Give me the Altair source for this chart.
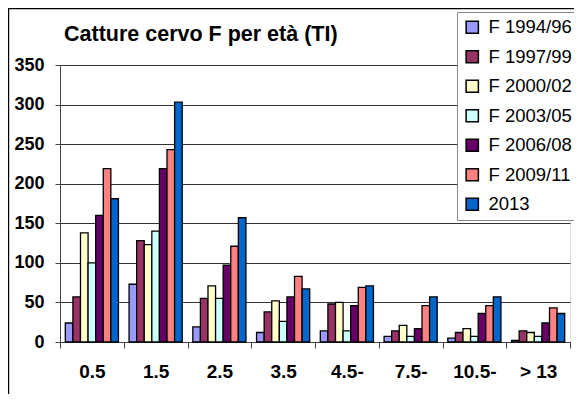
import altair as alt
import pandas as pd

categories = ["0.5", "1.5", "2.5", "3.5", "4.5-", "7.5-", "10.5-", "> 13"]
series = ["F 1994/96", "F 1997/99", "F 2000/02", "F 2003/05", "F 2006/08", "F 2009/11", "2013"]
colors = ["#9999FF", "#993366", "#FFFFCC", "#CCFFFF", "#660066", "#FF8080", "#0066CC"]

v_1994 = [24, 73, 19, 12, 14, 7, 5, 2]
v_1997 = [57, 128, 55, 38, 48, 14, 12, 14]
v_2000 = [138, 123, 71, 52, 50, 21, 17, 12]
v_2003 = [100, 140, 55, 26, 14, 7, 7, 7]
v_2006 = [160, 219, 97, 57, 46, 17, 36, 24]
v_2009 = [219, 243, 121, 83, 69, 46, 46, 43]
v_2013 = [181, 303, 157, 67, 71, 57, 57, 36]
y_ticks = [0, 50, 100, 150, 200, 250, 300, 350]
title_text = ["Catture cervo F per età (TI)"]

values = [v_1994, v_1997, v_2000, v_2003, v_2006, v_2009, v_2013]
rows = []
for s, vals in zip(series, values):
    for c, v in zip(categories, vals):
        rows.append({"Età": c, "Serie": s, "Catture": v})
df = pd.DataFrame(rows)
title_df = pd.DataFrame({"t": title_text})

FONT = "Liberation Sans"

bars = alt.Chart(df).mark_bar(stroke="black", strokeWidth=1.3).encode(
    x=alt.X("Età:N", sort=categories, title=None,
            scale=alt.Scale(paddingInner=0, paddingOuter=0),
            axis=alt.Axis(labelAngle=0, labelFont=FONT, labelFontSize=19, labelFontWeight="bold",
                          labelColor="black", labelPadding=14, tickBand="extent", tickSize=6,
                          tickColor="#444", domainColor="#444", grid=False)),
    xOffset=alt.XOffset("Serie:N", sort=series,
                        scale=alt.Scale(paddingInner=0, paddingOuter=0.7)),
    y=alt.Y("Catture:Q", title=None,
            scale=alt.Scale(domain=[0, 350], nice=False),
            axis=alt.Axis(values=y_ticks, labelFont=FONT, labelFontSize=18, labelFontWeight="bold",
                          labelColor="black", labelPadding=11, tickSize=5, tickColor="#444",
                          domainColor="#444", gridColor="#333", gridWidth=1)),
    color=alt.Color("Serie:N", sort=series,
                    scale=alt.Scale(domain=series, range=colors),
                    legend=alt.Legend(title=None, orient="none", legendX=397, legendY=-53,
                                      padding=6, rowPadding=10.5, labelFont=FONT, labelFontSize=18.5,
                                      labelColor="black", labelOffset=7, symbolType="square",
                                      symbolSize=150, symbolStrokeColor="black", symbolStrokeWidth=1.5,
                                      fillColor="white", strokeColor="#888", labelLimit=200)),
)

title = alt.Chart(title_df).mark_text(
    font=FONT, fontSize=21.5, fontWeight="bold", color="black", align="left", baseline="alphabetic"
).encode(text="t:N", x=alt.value(4), y=alt.value(-24))

frame = alt.Chart(title_df).mark_rect(fillOpacity=0, stroke="black", strokeWidth=1.2).encode(
    x=alt.value(-51.4), x2=alt.value(700), y=alt.value(-56.4), y2=alt.value(500)
)

chart = alt.layer(frame, bars, title).properties(
    width=510, height=277,
    padding={"left": 52, "top": 57, "right": 4, "bottom": 52},
    autosize=alt.AutoSizeParams(type="none"),
).configure_view(stroke="#999", strokeWidth=1.5).configure(background="white")

chart.save("out.html", embed_options={"renderer": "svg", "actions": False})
